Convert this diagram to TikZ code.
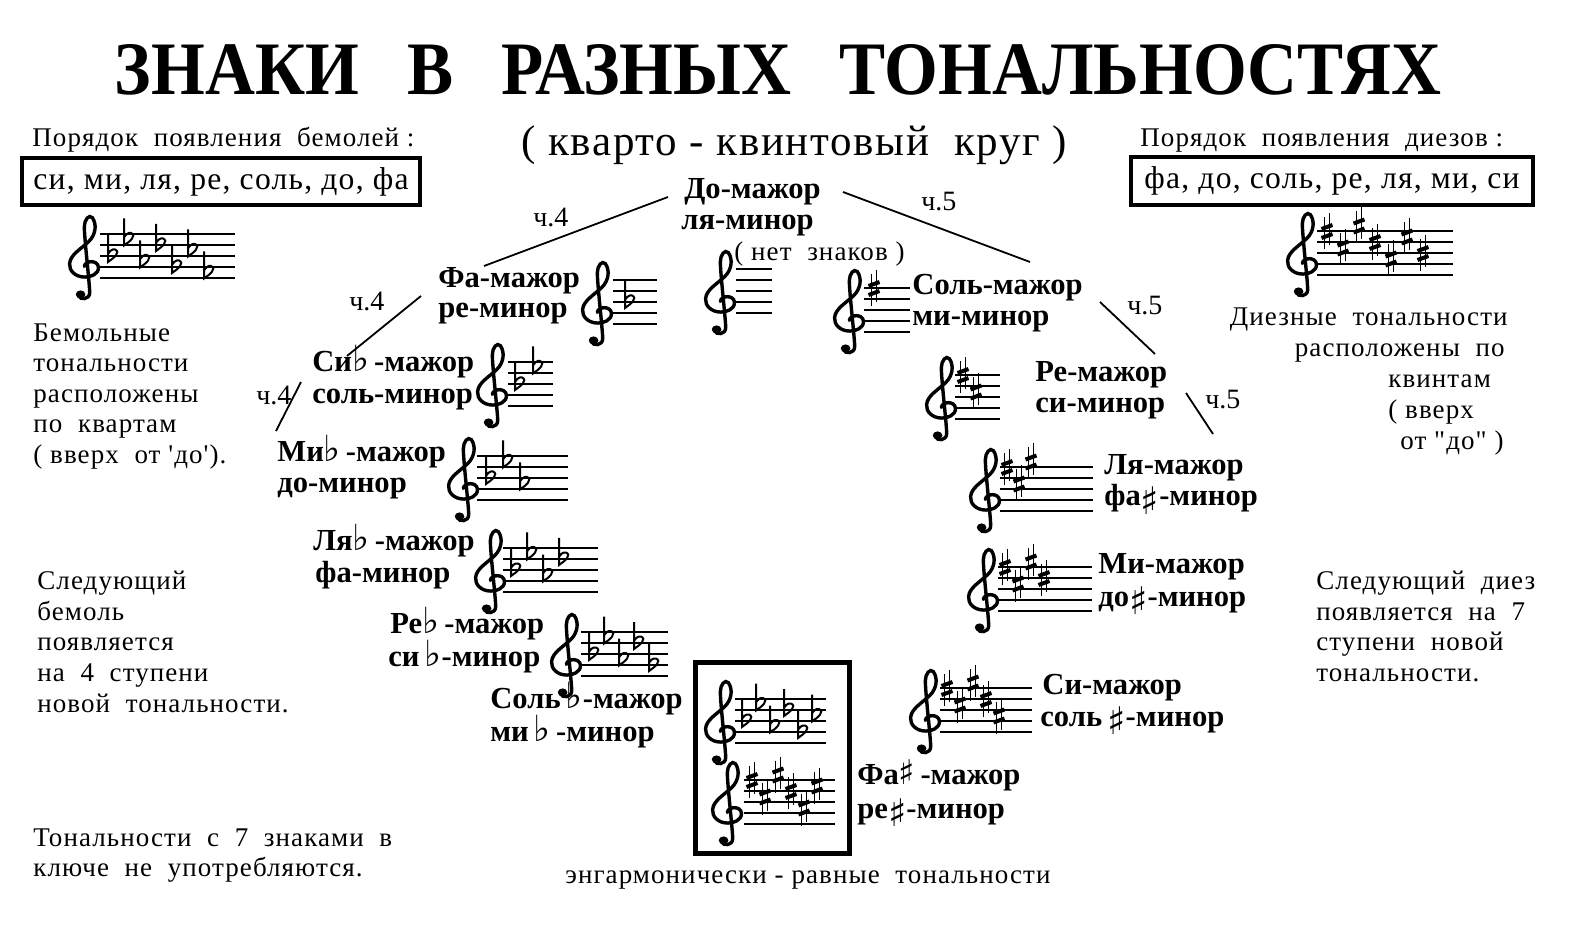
\documentclass[tikz,border=0pt]{standalone}
\usepackage{fontspec}
\usepackage{graphicx}
\setmainfont{Liberation Serif}[Ligatures=TeXOff]
\newfontfamily\bodyf{Liberation Serif}[LetterSpace=4, Ligatures=TeXOff]
\newfontfamily\symf{DejaVu Sans}
\newcommand{\iflat}{{\symf\bfseries\fontsize{18}{18}\selectfont ♭}}
\newcommand{\isharp}{\smash{\raisebox{-0.6ex}{\symf\bfseries\fontsize{19}{19}\selectfont ♯}}}
\newcommand{\isharpu}{{\symf\bfseries\fontsize{17}{17}\selectfont ♯}}

\tikzset{
  lbl/.style={font=\fontsize{15.3}{16}\selectfont\bfseries, inner sep=0, anchor=base west},
  txt/.style={font=\bodyf\fontsize{13.5}{15}\selectfont, inner sep=0, anchor=base west},
  txte/.style={font=\bodyf\fontsize{13.5}{15}\selectfont, inner sep=0, anchor=base east},
  intv/.style={font=\fontsize{14}{15}\selectfont, inner sep=0, anchor=base west},
  conn/.style={line width=0.9pt},
  staffline/.style={line width=0.65pt},
  clefline/.style={line width=1.7pt, line cap=round},
  accid/.style={line width=1pt},
  boxed/.style={draw, line width=2pt, inner sep=0, font=\bodyf\fontsize{15.8}{16}\selectfont},
}

\newcommand{\gclef}[2]{%
  \begin{scope}[shift={(#1,#2)}, x=6.7pt, y=5.6pt]
    \draw[clefline] (-0.05,0.05) .. controls (0.0,0.6) and (0.95,0.65) .. (1.0,0.0)
      .. controls (1.05,-0.65) and (0.4,-0.9) .. (0.0,-0.9)
      .. controls (-0.75,-0.9) and (-1.2,-0.3) .. (-1.15,0.3)
      .. controls (-1.1,1.1) and (-0.3,1.6) .. (0.3,2.3)
      .. controls (0.8,2.9) and (0.9,3.8) .. (0.55,4.4)
      .. controls (0.3,4.75) and (-0.05,4.2) .. (-0.05,3.6)
      .. controls (-0.05,2.5) and (0.35,-1.5) .. (0.35,-2.3)
      .. controls (0.35,-2.9) and (-0.35,-3.0) .. (-0.5,-2.55);
    \fill (-0.33,-2.45) circle[radius=0.36];
  \end{scope}}
\newcommand{\stafflines}[3]{\foreach \k in {0,...,4}{\draw[staffline] (#1,{#3+11*\k}) -- (#2,{#3+11*\k});}}
\newcommand{\kflat}[2]{\draw[accid] ({#1},{#2-21}) -- ({#1},{#2+6}) .. controls ({#1+6},{#2+2}) and ({#1+13},{#2-4}) .. ({#1+7},{#2-6.5}) .. controls ({#1+4},{#2-7.5}) and ({#1+1},{#2-4}) .. ({#1},{#2-2});}
\newcommand{\ksharp}[2]{\draw[line width=0.7pt] ({#1-2.5},{#2-14}) -- ({#1-2.5},{#2+18}) ({#1+2.5},{#2-18}) -- ({#1+2.5},{#2+14});
  \draw[line width=2pt] ({#1-5.5},{#2-2}) -- ({#1+5.5},{#2-6}) ({#1-5.5},{#2+7}) -- ({#1+5.5},{#2+3});}
\newcommand{\keyflats}[4]{\foreach \p [count=\i] in {4,7,3,6,2,5,1}{\ifnum\i>#3\relax\else\pgfmathsetmacro\ax{#1+(\i-1)*#4}\pgfmathsetmacro\ay{#2+44-5.5*\p}\kflat{\ax}{\ay}\fi}}
\newcommand{\keysharps}[4]{\foreach \p [count=\i] in {8,5,9,6,3,7,4}{\ifnum\i>#3\relax\else\pgfmathsetmacro\ax{#1+(\i-1)*#4}\pgfmathsetmacro\ay{#2+44-5.5*\p}\ksharp{\ax}{\ay}\fi}}

\begin{document}
\begin{tikzpicture}[x=0.5pt, y=-0.5pt]
\useasboundingbox (0,0) rectangle (1580,935);

% title
\node[inner sep=0, anchor=base] (title) at (778,95) {\resizebox{663pt}{25pt}{\bfseries ЗНАКИ\hspace{0.7em}В\hspace{0.7em}РАЗНЫХ\hspace{0.7em}ТОНАЛЬНОСТЯХ}};
\node[inner sep=0, anchor=base west, font=\bodyf\fontsize{21.5}{22}\selectfont] (sub) at (521,156) {( кварто - квинтовый\ \ круг )};

% order boxes
\node[txt] (pfl) at (32,147) {Порядок\ \ появления\ \ бемолей :};
\node[boxed, minimum width=199pt, minimum height=23.5pt] (bfl) at (221,181.5) {си, ми, ля, ре, соль, до, фа};
\node[txt] (psh) at (1140,147) {Порядок\ \ появления\ \ диезов :};
\node[boxed, minimum width=201pt, minimum height=24pt] (bsh) at (1332,181) {фа, до, соль, ре, ля, ми, си};

% big staves
\gclef{85}{267}\stafflines{100}{235}{234}\keyflats{108}{234}{7}{16}
\gclef{1303}{264}\stafflines{1317}{1453}{231}\keysharps{1327}{231}{7}{16}

% left notes
\node[txt] (l1) at (33,342) {Бемольные};
\node[txt] (l2) at (33,372) {тональности};
\node[txt] (l3) at (33,403) {расположены};
\node[txt] (l4) at (33,433) {по\ \ квартам};
\node[txt] (l5) at (33,464) {( вверх\ \ от 'до').};
\node[txt] (l6) at (37,589) {Следующий};
\node[txt] (l7) at (37,620) {бемоль};
\node[txt] (l8) at (37,650) {появляется};
\node[txt] (l9) at (37,681) {на\ \ 4\ \ ступени};
\node[txt] (l10) at (37,712) {новой\ \ тональности.};
\node[txt] (l11) at (33,846) {Тональности\ \ с\ \ 7\ \ знаками\ \ в};
\node[txt] (l12) at (33,876) {ключе\ \ не\ \ употребляются.};

% right notes
\node[txte] (r1) at (1508,326) {Диезные\ \ тональности};
\node[txte] (r2) at (1505,357) {расположены\ \ по};
\node[txt] (r3) at (1388,388) {квинтам};
\node[txt] (r4) at (1388,419) {( вверх};
\node[txt] (r5) at (1400,450) {от "до" )};
\node[txt] (r6) at (1316,589) {Следующий\ \ диез};
\node[txt] (r7) at (1316,620) {появляется\ \ на\ \ 7};
\node[txt] (r8) at (1316,650) {ступени\ \ новой};
\node[txt] (r9) at (1316,681) {тональности.};

% centre
\node[lbl] (c1) at (684,199) {До-мажор};
\node[lbl] (c2) at (681,230) {ля-минор};
\node[txt] (c3) at (734,261) {( нет\ \ знаков )};
\gclef{721}{302}\stafflines{736}{772}{269}

% flat side
\node[lbl] (f1a) at (438,288) {Фа-мажор};
\node[lbl] (f1b) at (438,318) {ре-минор};
\gclef{598}{313}\stafflines{613}{657}{280}\keyflats{625}{280}{1}{16}

\node[lbl] (f2a) at (312,372) {Си\iflat\,-мажор};
\node[lbl] (f2b) at (312,404) {соль-минор};
\gclef{493}{395}\stafflines{508}{553}{362}\keyflats{515}{362}{2}{18}

\node[lbl] (f3a) at (277,462) {Ми\iflat\,-мажор};
\node[lbl] (f3b) at (277,493) {до-минор};
\gclef{464}{489}\stafflines{477}{568}{456}\keyflats{486}{456}{3}{17}

\node[lbl] (f4a) at (313,551) {Ля\iflat\,-мажор};
\node[lbl] (f4b) at (315,582) {фа-минор};
\gclef{491}{581}\stafflines{503}{598}{548}\keyflats{511}{548}{4}{16}

\node[lbl] (f5a) at (390,633) {Ре\iflat\,-мажор};
\node[lbl] (f5b) at (388,666) {си\,\iflat-минор};
\gclef{567}{665}\stafflines{581}{668}{632}\keyflats{589}{632}{5}{15}

\node[lbl] (f6a) at (490,708) {Соль\,\iflat-мажор};
\node[lbl] (f6b) at (490,741) {ми\,\iflat\,-минор};

% sharp side
\node[lbl] (s1a) at (912,295) {Соль-мажор};
\node[lbl] (s1b) at (912,326) {ми-минор};
\gclef{850}{321}\stafflines{864}{910}{288}\keysharps{874}{288}{1}{14}

\node[lbl] (s2a) at (1035,382) {Ре-мажор};
\node[lbl] (s2b) at (1035,413) {си-минор};
\gclef{942}{408}\stafflines{955}{1000}{375}\keysharps{963}{375}{2}{13}

\node[lbl] (s3a) at (1104,474) {Ля-мажор};
\node[lbl] (s3b) at (1104,506) {фа\isharp-минор};
\gclef{986}{500}\stafflines{1000}{1093}{467}\keysharps{1007}{467}{3}{12}

\node[lbl] (s4a) at (1098,574) {Ми-мажор};
\node[lbl] (s4b) at (1098,606) {до\isharp-минор};
\gclef{984}{600}\stafflines{998}{1092}{567}\keysharps{1005}{567}{4}{13}

\node[lbl] (s5a) at (1042,694) {Си-мажор};
\node[lbl] (s5b) at (1040,726) {соль\,\isharp-минор};
\gclef{926}{721}\stafflines{940}{1032}{688}\keysharps{947}{688}{5}{13}

% enharmonic box
\node[draw, line width=2.5pt, minimum width=77pt, minimum height=95.5pt, inner sep=0] (enh) at (772,757.5) {};
\gclef{721}{732}\stafflines{735}{826}{699}\keyflats{742}{699}{6}{14}
\gclef{728}{813}\stafflines{744}{835}{780}\keysharps{752}{780}{6}{13}
\node[lbl] (s6a) at (857,784) {Фа\isharpu\,-мажор};
\node[lbl] (s6b) at (857,818) {ре\isharp-минор};
\node[txt] (enht) at (565,883) {энгармонически - равные\ \ тональности};

% interval connectors
\coordinate (a1) at (668,197); \coordinate (a2) at (484,266);
\coordinate (a3) at (421,296); \coordinate (a4) at (347,356);
\coordinate (a5) at (301,382); \coordinate (a6) at (276,431);
\coordinate (b1) at (843,192); \coordinate (b2) at (1030,262);
\coordinate (b3) at (1100,302); \coordinate (b4) at (1155,354);
\coordinate (b5) at (1186,393); \coordinate (b6) at (1213,434);
\draw[conn] (a1) -- (a2);
\draw[conn] (a3) -- (a4);
\draw[conn] (a5) -- (a6);
\draw[conn] (b1) -- (b2);
\draw[conn] (b3) -- (b4);
\draw[conn] (b5) -- (b6);
\node[intv] (i1) at (533,227) {ч.4};
\node[intv] (i2) at (349,311) {ч.4};
\node[intv] (i3) at (256,405) {ч.4};
\node[intv] (i4) at (921,211) {ч.5};
\node[intv] (i5) at (1127,315) {ч.5};
\node[intv] (i6) at (1205,409) {ч.5};
\end{tikzpicture}
\end{document}
